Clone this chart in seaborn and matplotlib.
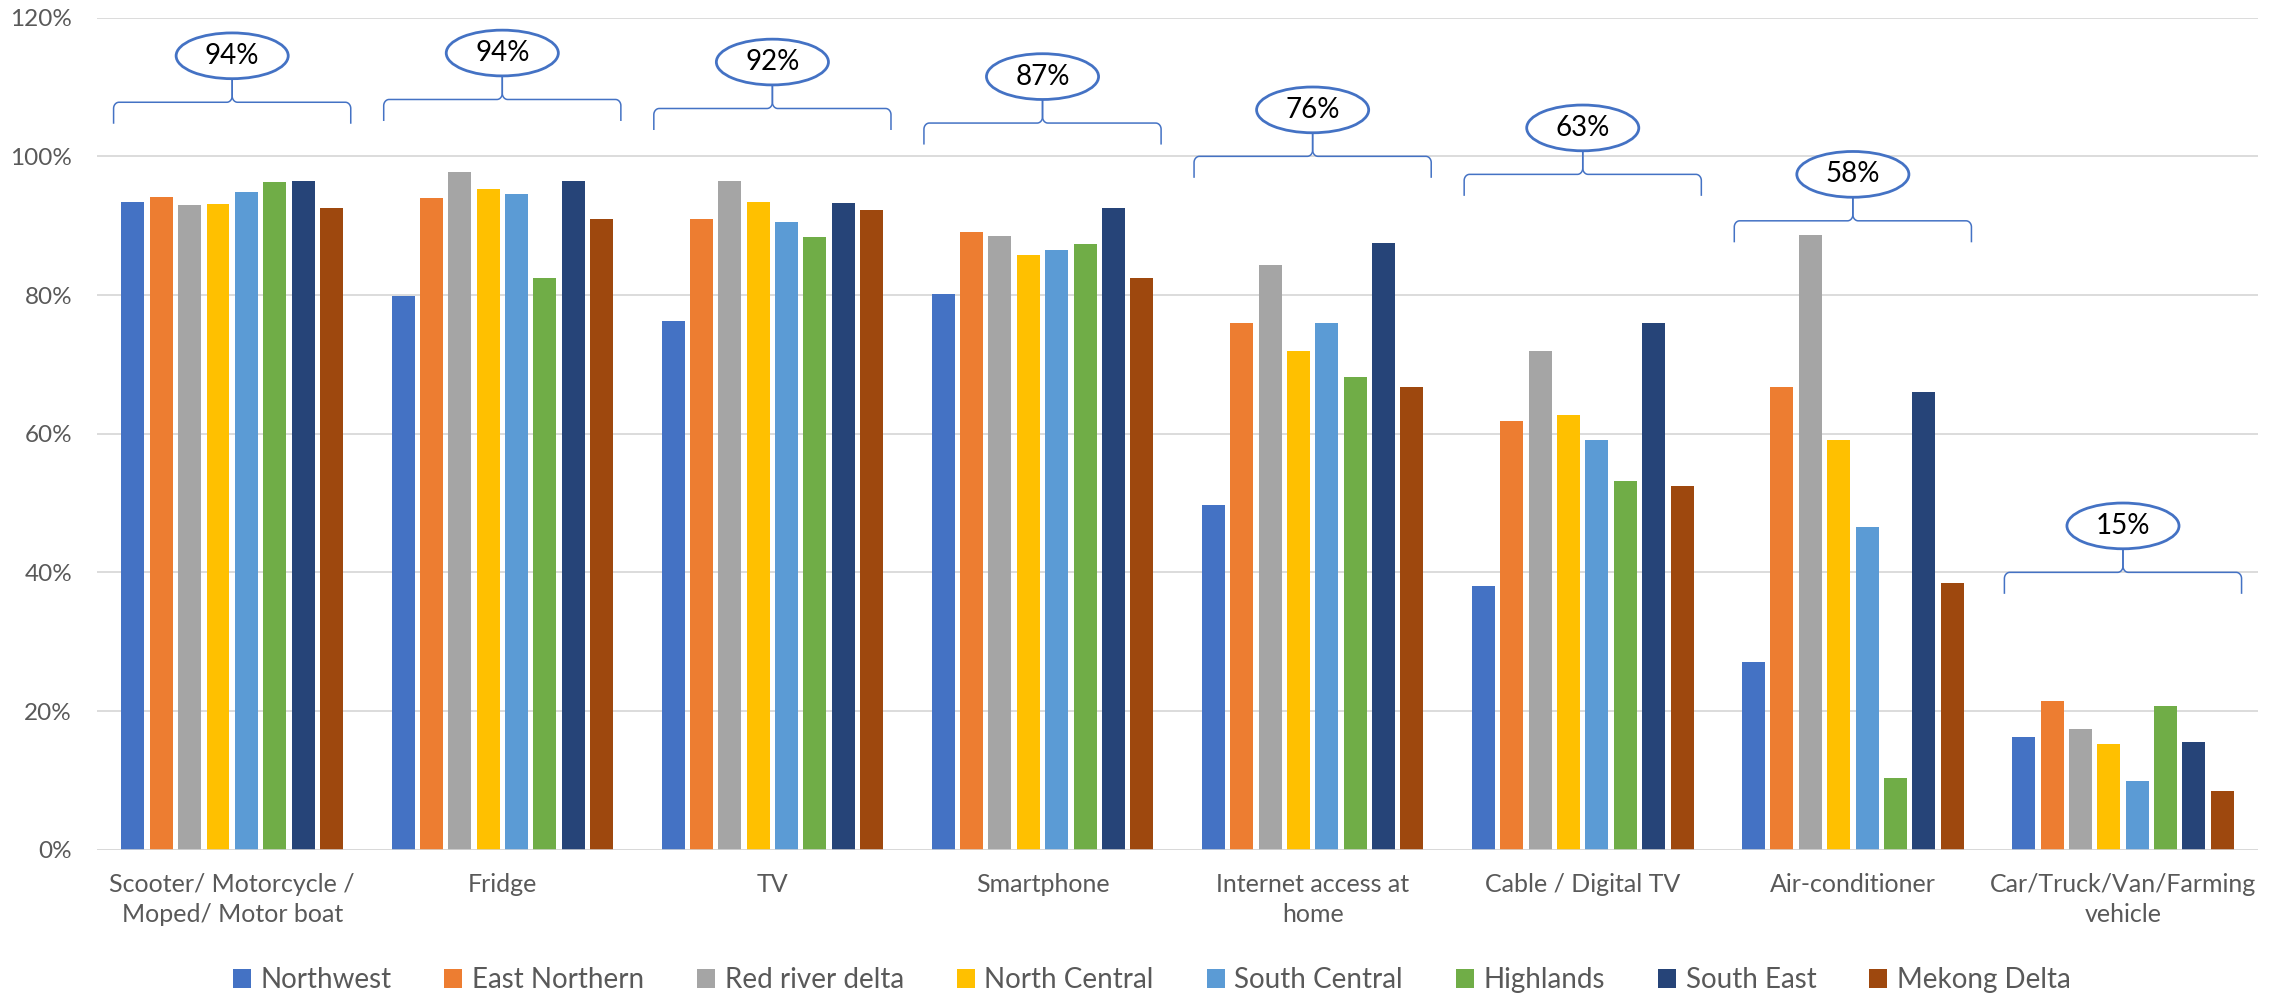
import numpy as np
import pandas as pd
import matplotlib
matplotlib.use("Agg")
import matplotlib.pyplot as plt
import seaborn as sns
from matplotlib.patches import Ellipse, Patch
from matplotlib.ticker import FuncFormatter

# ---------------- data ----------------
categories = ["Scooter/ Motorcycle /\nMoped/ Motor boat", "Fridge", "TV", "Smartphone",
              "Internet access at\nhome", "Cable / Digital TV", "Air-conditioner",
              "Car/Truck/Van/Farming\nvehicle"]
regions = ["Northwest", "East Northern", "Red river delta", "North Central",
           "South Central", "Highlands", "South East", "Mekong Delta"]

northwest       = [93.4, 79.9, 76.3, 80.1, 49.7, 38.1, 27.0, 16.2]
east_northern   = [94.2, 94.0, 91.0, 89.1, 76.0, 61.8, 66.7, 21.4]
red_river_delta = [93.0, 97.7, 96.4, 88.5, 84.3, 71.9, 88.6, 17.4]
north_central   = [93.1, 95.3, 93.4, 85.7, 71.9, 62.7, 59.1, 15.2]
south_central   = [94.9, 94.5, 90.5, 86.5, 75.9, 59.1, 46.5, 9.9]
highlands       = [96.3, 82.4, 88.4, 87.4, 68.2, 53.2, 10.4, 20.7]
south_east      = [96.4, 96.4, 93.3, 92.5, 87.5, 76.0, 66.0, 15.5]
mekong_delta    = [92.5, 90.9, 92.2, 82.5, 66.7, 52.4, 38.5, 8.4]

average_labels = ["94%", "94%", "92%", "87%", "76%", "63%", "58%", "15%"]
y_ticks = [0, 20, 40, 60, 80, 100, 120]

# annotation (brace) heights, in axis units
brace_levels = [107.8, 108.2, 106.9, 104.8, 100.0, 97.4, 90.7, 40.0]

colors = ["#4472C4", "#ED7D31", "#A5A5A5", "#FFC000",
          "#5B9BD5", "#70AD47", "#264478", "#9E480E"]

series = [northwest, east_northern, red_river_delta, north_central,
          south_central, highlands, south_east, mekong_delta]

rows = []
for reg, vals in zip(regions, series):
    for cat, v in zip(categories, vals):
        rows.append({"category": cat, "region": reg, "value": v})
df = pd.DataFrame(rows)

# ---------------- style ----------------
sns.set_theme(style="white")
plt.rcParams["font.family"] = ["Lato", "DejaVu Sans"]

fig = plt.figure(figsize=(22.85, 9.98), dpi=100)
ax = fig.add_axes([0.0425, 0.1486, 0.9457, 0.8337])

sns.barplot(data=df, x="category", y="value", hue="region",
            order=categories, hue_order=regions, palette=colors,
            width=0.84, gap=0.19, linewidth=0, saturation=1,
            errorbar=None, ax=ax)

ax.set_xlim(-0.5, len(categories) - 0.5)
ax.set_ylim(0, 120)
ax.set_yticks(y_ticks)
ax.yaxis.set_major_formatter(FuncFormatter(lambda v, p: f"{int(v)}%"))
ax.set_xlabel("")
ax.set_ylabel("")
for s in ax.spines.values():
    s.set_visible(False)
ax.yaxis.grid(True, color="#D9D9D9", linewidth=1.3)
ax.set_axisbelow(True)
ax.axhline(0, color="#D9D9D9", linewidth=1.8, zorder=1)
ax.tick_params(axis="y", length=0, pad=18, labelsize=17.5, labelcolor="#595959")
ax.tick_params(axis="x", length=0, pad=17, labelsize=18, labelcolor="#595959")
for t in ax.get_xticklabels():
    t.set_linespacing(1.35)

# ---------------- braces + ellipses ----------------
blue = "#4472C4"
half_w = 0.439
drop = 3.1
rh, rv = 0.02, 0.9
peak = 3.4
ell_w, ell_h = 0.415, 6.6


def arc(cx, cy, rx, ry, t0, t1, n=20):
    t = np.linspace(t0, t1, n)
    return cx + rx * np.cos(t), cy + ry * np.sin(t)


for i, (lvl, lab) in enumerate(zip(brace_levels, average_labels)):
    c = i
    L, R = c - half_w, c + half_w
    xs, ys = [], []
    ax_, ay_ = arc(L + rh, lvl - rv, rh, rv, np.pi, np.pi / 2)
    xs += [L]; ys += [lvl - drop]
    xs += list(ax_); ys += list(ay_)
    bx, by = arc(c - rh, lvl + rv, rh, rv, -np.pi / 2, 0)
    xs += list(bx); ys += list(by)
    xs += [c]; ys += [lvl + peak]
    ax.plot(xs, ys, color=blue, lw=1.1, solid_capstyle="butt", clip_on=False)
    xs, ys = [c], [lvl + peak]
    cx2, cy2 = arc(c + rh, lvl + rv, rh, rv, np.pi, 3 * np.pi / 2)
    xs += list(cx2); ys += list(cy2)
    dx, dy = arc(R - rh, lvl - rv, rh, rv, np.pi / 2, 0)
    xs += list(dx); ys += list(dy)
    xs += [R]; ys += [lvl - drop]
    ax.plot(xs, ys, color=blue, lw=1.1, solid_capstyle="butt", clip_on=False)

    ey = lvl + peak + ell_h / 2
    e = Ellipse((c, ey), ell_w, ell_h, facecolor="white", edgecolor=blue,
                linewidth=2.0, zorder=5, clip_on=False)
    ax.add_patch(e)
    ax.text(c, ey, lab, ha="center", va="center", fontsize=20,
            color="black", zorder=6)

# ---------------- legend ----------------
if ax.get_legend() is not None:
    ax.get_legend().remove()
handles = [Patch(facecolor=col, edgecolor="none") for col in colors]
fig.legend(handles, regions, loc="center", bbox_to_anchor=(0.504, 0.018),
           ncol=len(regions), frameon=False, fontsize=20,
           handlelength=0.65, handleheight=0.65, handletextpad=0.35,
           columnspacing=1.9, labelcolor="#595959")

fig.savefig("out.png", dpi=100)
